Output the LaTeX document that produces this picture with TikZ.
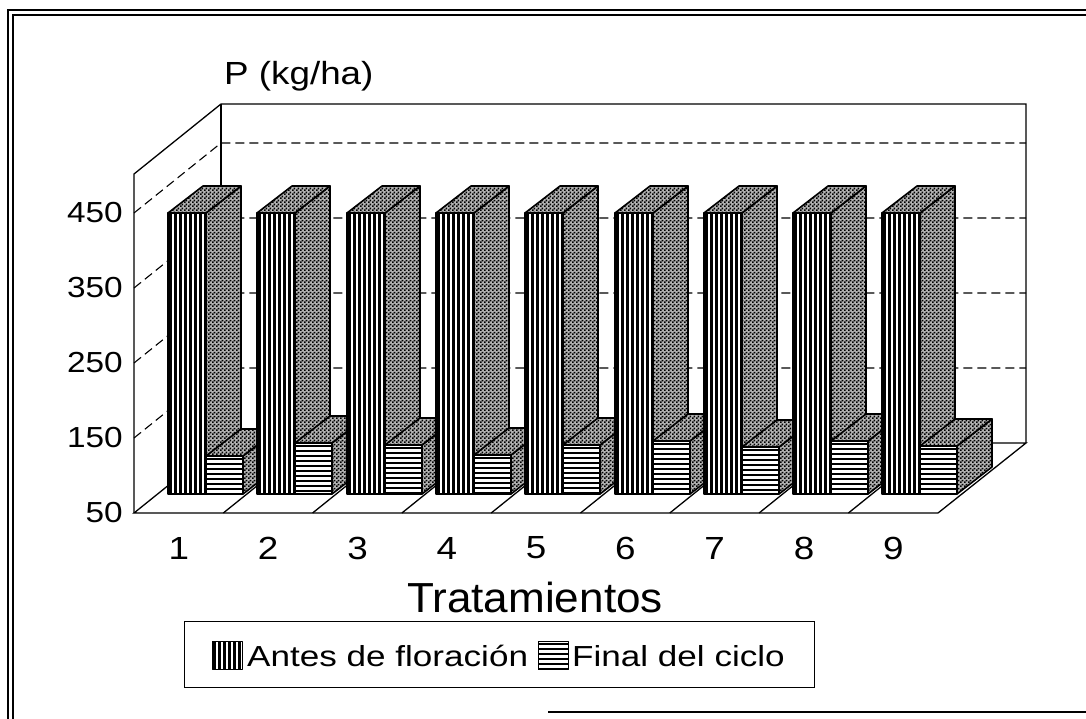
\documentclass[tikz,border=0pt]{standalone}
\usepackage{fontspec}
\setmainfont{Liberation Sans}[FakeStretch=1.15]
\newfontfamily\legendfont{Liberation Sans}[FakeStretch=1.21]
\newfontfamily\titlefont{Liberation Sans}[FakeStretch=1.05]
\usetikzlibrary{patterns,patterns.meta}

\tikzdeclarepattern{
  name=checker,
  bounding box={(0pt,0pt) and (4pt,4pt)},
  tile size={(4pt,4pt)},
  code={\fill (0pt,0pt) rectangle (2pt,2pt); \fill (2pt,2pt) rectangle (4pt,4pt);}
}

% vertical-stripe face: left x, top y, right x, bottom y (pixel coordinates)
\newcommand\vstripeface[5][1.6pt]{%
  \begin{scope}
    \clip (#2,#3) rectangle (#4,#5);
    \fill[white] (#2,#3) rectangle (#4,#5);
    \foreach \i in {0,...,8}{\fill ({#2+1+5*\i},#3) rectangle ++(2.6,{#5-#3});}
  \end{scope}
  \draw[line width=#1, line join=round] (#2,#3) rectangle (#4,#5);}
% horizontal-stripe face
\newcommand\hstripeface[5][1.6pt]{%
  \begin{scope}
    \clip (#2,#3) rectangle (#4,#5);
    \fill[white] (#2,#3) rectangle (#4,#5);
    \foreach \i in {0,...,12}{\fill (#2,{#3+2+5*\i}) rectangle ++({#4-#2},2.2);}
  \end{scope}
  \draw[line width=#1, line join=round] (#2,#3) rectangle (#4,#5);}

\begin{document}
\begin{tikzpicture}[x=1pt,y=-1pt,
  wall/.style={line width=1.3pt},
  gridline/.style={line width=1.1pt, dash pattern=on 9pt off 5pt},
  sideface/.style={draw=black, line width=1.6pt, line join=round, preaction={fill=black!30}, pattern=checker},
  ticklbl/.style={font=\fontsize{29}{35}\selectfont, inner sep=0pt},
  catlbl/.style={font=\fontsize{32}{38}\selectfont, inner sep=0pt},
  legtxt/.style={font=\legendfont\fontsize{29}{35}\selectfont, inner sep=0pt},
  frame/.style={line width=2pt},
]
\useasboundingbox (0,0) rectangle (1086,719);

% outer frame
\draw[frame] (8,719) -- (8,10) -- (1086,10);
\draw[frame] (13,719) -- (13,15) -- (1086,15);
\draw[frame] (548,712) -- (1086,712);

% walls
\draw[wall] (134,513) -- (134,174) -- (221,104) -- (1026,104) -- (1026,443);
\draw[wall] (221,104) -- (221,443);
\draw[wall] (134,513) -- (938,513) -- (1026,443) -- (221,443) -- cycle;
\foreach \k in {1,...,8}
  \draw[wall] ({134+89.3*\k},513) -- ({221+89.3*\k},443);

% grid lines
\foreach \y in {213,288,363,438}
  \draw[gridline] (134,\y) -- (221,\y-70) -- (1026,\y-70);

% bars
\foreach \k/\ft in {0/456,1/443,2/445,3/455,4/445,5/441,6/447,7/441,8/446}{
  \pgfmathsetmacro{\xl}{round(168+89.3*\k)}
  \pgfmathsetmacro{\xm}{\xl+38}
  \pgfmathsetmacro{\xr}{\xl+75}
  \vstripeface{\xl}{213}{\xm}{494}
  \path[sideface] (\xm,494) -- (\xm+35,467) -- (\xm+35,186) -- (\xm,213) -- cycle;
  \path[sideface] (\xl,213) -- (\xl+35,186) -- (\xm+35,186) -- (\xm,213) -- cycle;
  \hstripeface{\xm}{\ft}{\xr}{494}
  \path[sideface] (\xr,494) -- (\xr+35,467) -- (\xr+35,\ft-27) -- (\xr,\ft) -- cycle;
  \path[sideface] (\xm,\ft) -- (\xm+35,\ft-27) -- (\xr+35,\ft-27) -- (\xr,\ft) -- cycle;
}

% axis labels
\node[font=\fontsize{32}{38}\selectfont, inner sep=0pt, anchor=base west] (ylabel) at (224,85) {P (kg/ha)};
\foreach \v/\y in {450/213,350/288,250/363,150/438,50/513}
  \node[ticklbl, anchor=east] (t\v) at (123,\y) {\v};
\foreach \k in {1,...,9}
  \node[catlbl] (c\k) at ({89.6+89.3*\k},548) {\k};
\node[font=\titlefont\fontsize{42}{50}\selectfont, inner sep=0pt, anchor=base] (xlabel) at (535,612) {Tratamientos};

% legend
\node[draw, line width=1.3pt, minimum width=630pt, minimum height=66pt, inner sep=0pt, anchor=north west] (legend) at (184,621) {};
\vstripeface[1pt]{212}{641}{242}{669}
\node[legtxt, anchor=base west] (l1) at (247,666) {Antes de floración};
\hstripeface[1pt]{538}{641}{568}{669}
\node[legtxt, anchor=base west] (l2) at (572,666) {Final del ciclo};
\end{tikzpicture}
\end{document}
